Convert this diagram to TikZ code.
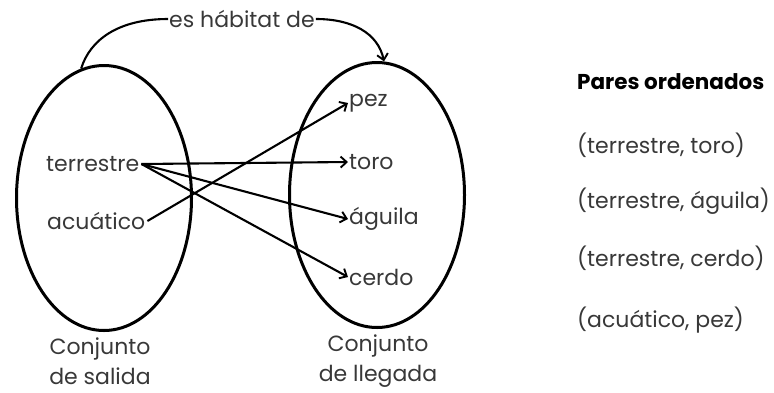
\documentclass[tikz,border=0pt]{standalone}
\usepackage{fontspec}
\setmainfont{Poppins}
\usetikzlibrary{shapes.geometric,arrows.meta}
\definecolor{lblgray}{HTML}{383838}
\tikzset{
  setshape/.style={ellipse, draw=black, line width=3pt, minimum width=175pt, minimum height=265pt, inner sep=0pt},
  lbl/.style={font=\fontsize{22}{26}\selectfont, text=lblgray, inner sep=1pt},
  pair/.style={font=\fontsize{22}{26}\selectfont, text=lblgray, inner sep=0pt, anchor=west},
  conn/.style={line width=2.1pt, -{Straight Barb[length=6pt,width=11pt,line width=1.9pt]}},
  plain/.style={line width=2.1pt},
}
\begin{document}
\begin{tikzpicture}[x=1pt,y=-1pt]
\useasboundingbox (0,0) rectangle (774,392);
% sets
\node[setshape] (A) at (104,198) {};
\node[setshape] (B) at (377,195) {};
% left labels
\node[lbl, anchor=west] (terr) at (45,164) {terrestre};
\node[lbl, anchor=west] (acua) at (46,221) {acuático};
% right labels
\node[lbl, anchor=west] (pez) at (348,103) {pez};
\node[lbl, anchor=west] (toro) at (348,162) {toro};
\node[lbl, anchor=west] (aguila) at (348,219) {águila};
\node[lbl, anchor=west] (cerdo) at (348,277) {cerdo};
% captions
\node[lbl, align=center, font=\fontsize{22}{30}\selectfont] (capA) at (100,361) {Conjunto\\de salida};
\node[lbl, align=center, font=\fontsize{22}{30}\selectfont] (capB) at (378,361) {Conjunto\\de llegada};
% relation label
\node[lbl, anchor=center] (rel) at (242,19) {es hábitat de};
\draw[plain] (A.100) .. controls (90,40) and (118,19) .. (rel.west);
\draw[conn] (rel.east) .. controls (352,19) and (378,33) .. (B.87);
% mapping arrows
\coordinate (ts) at ([xshift=1pt]terr.east);
\draw[conn] (ts) -- (toro.west);
\draw[conn] (ts) -- (aguila.west);
\draw[conn] (ts) -- (cerdo.west);
\draw[conn] ([xshift=1pt]acua.east) -- (pez.west);
% ordered pairs
\node[pair, font=\bfseries\fontsize{21.5}{26}\selectfont, text=black] (title) at (577,82) {Pares ordenados};
\node[pair] (p1) at (577,145) {(terrestre, toro)};
\node[pair] (p2) at (577,201) {(terrestre, águila)};
\node[pair] (p3) at (577,258) {(terrestre, cerdo)};
\node[pair] (p4) at (577,320) {(acuático, pez)};
\end{tikzpicture}
\end{document}
